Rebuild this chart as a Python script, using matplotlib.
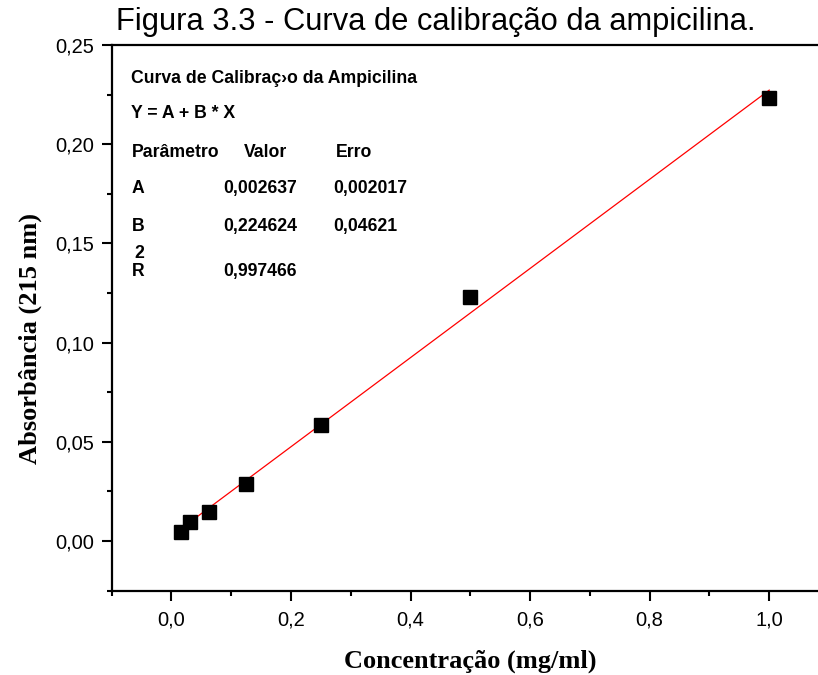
import numpy as np
import matplotlib
matplotlib.use("Agg")
import matplotlib.pyplot as plt
from matplotlib.ticker import MultipleLocator, FuncFormatter

# data
concentracao = [0.015625, 0.03125, 0.0625, 0.125, 0.25, 0.5, 1.0]
absorbancia = [0.0045, 0.0098, 0.0148, 0.0290, 0.0585, 0.1228, 0.2232]

# fit parameters printed in the chart
par_A = 0.002637
par_B = 0.224624
err_A = 0.002017
err_B = 0.04621
r2 = 0.997466

fig = plt.figure(figsize=(8.18, 6.75), dpi=100, facecolor='white')
ax = fig.add_axes([111.7 / 818, 1 - 590.7 / 675, (829 - 111.7) / 818, (590.7 - 45) / 675])

x_fit = np.array([concentracao[0], concentracao[-1]])
ax.plot(x_fit, par_A + par_B * x_fit, color='red', lw=0.9, zorder=2)
ax.plot(concentracao, absorbancia, 's', color='black', ms=9.5, zorder=3)

ax.set_xlim(-0.1, 1.1)
ax.set_ylim(-0.025, 0.25)

comma = FuncFormatter(lambda v, p: ('%.1f' % v).replace('.', ','))
comma2 = FuncFormatter(lambda v, p: ('%.2f' % v).replace('.', ','))
ax.xaxis.set_major_locator(MultipleLocator(0.2))
ax.xaxis.set_minor_locator(MultipleLocator(0.1))
ax.yaxis.set_major_locator(MultipleLocator(0.05))
ax.yaxis.set_minor_locator(MultipleLocator(0.025))
ax.xaxis.set_major_formatter(comma)
ax.yaxis.set_major_formatter(comma2)

for s in ax.spines.values():
    s.set_linewidth(1.6)
ax.tick_params(which='both', direction='out', width=1.5, labelsize=14.5,
               top=False, right=False)
ax.tick_params(which='major', length=7.5, pad=5)
ax.tick_params(which='minor', length=3.8)
ax.tick_params(axis='x', which='major', pad=7)
for lab in ax.get_xticklabels() + ax.get_yticklabels():
    lab.set_family('Liberation Sans')

ax.set_xlabel('Concentração (mg/ml)', family='Liberation Serif', fontweight='bold',
              fontsize=19, labelpad=14)
ax.set_ylabel('Absorbância (215 nm)', family='Liberation Serif', fontweight='bold',
              fontsize=19)
ax.yaxis.set_label_coords(-0.097, 0.463)

# fit results box text
tx = dict(family='Liberation Sans', fontweight='bold', fontsize=12.7,
          transform=ax.transData, va='center')
ax.text(-0.067, 0.2333, 'Curva de Calibraç\u203ao da Ampicilina', **tx)
ax.text(-0.067, 0.2156, 'Y = A + B * X', **tx)
ax.text(-0.067, 0.1960, 'Parâmetro', **tx)
ax.text(0.121, 0.1960, 'Valor', **tx)
ax.text(0.275, 0.1960, 'Erro', **tx)
ax.text(-0.067, 0.1778, 'A', **tx)
ax.text(0.086, 0.1778, ('%.6f' % par_A).replace('.', ','), **tx)
ax.text(0.270, 0.1778, ('%.6f' % err_A).replace('.', ','), **tx)
ax.text(-0.067, 0.1586, 'B', **tx)
ax.text(0.086, 0.1586, ('%.6f' % par_B).replace('.', ','), **tx)
ax.text(0.270, 0.1586, ('%.5f' % err_B).replace('.', ','), **tx)
ax.text(-0.067, 0.1360, 'R', **tx)
ax.text(-0.062, 0.1450, '2', **tx)
ax.text(0.086, 0.1360, ('%.6f' % r2).replace('.', ','), **tx)

fig.text(116 / 818, 1 - 22 / 675, 'Figura 3.3 - Curva de calibração da ampicilina.',
         family='Liberation Sans', fontsize=22.2, va='center', ha='left')

fig.savefig('out.png', dpi=100, facecolor='white')
